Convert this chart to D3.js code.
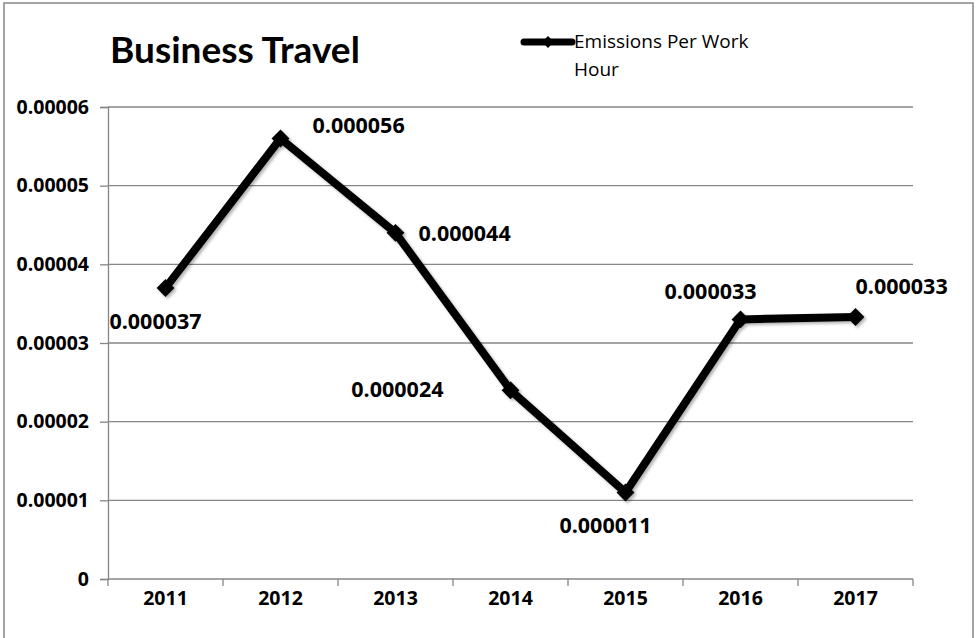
<!DOCTYPE html>
<html>
<head>
<meta charset="utf-8">
<script src="https://cdn.jsdelivr.net/npm/d3@7"></script>
<style>
  html, body { margin: 0; padding: 0; background: #fff; }
  svg { display: block; }
  text { font-family: "Open Sans", "Noto Sans", "DejaVu Sans", sans-serif; fill: #000; }
</style>
</head>
<body>
<svg id="chart" width="977" height="638"></svg>
<script>
// Business travel emissions per work hour, 2011–2017
const years = ["2011", "2012", "2013", "2014", "2015", "2016", "2017"];
const emissions = [0.000037, 0.000056, 0.000044, 0.000024, 0.000011, 0.000033, 0.0000333];
const yTicks = [0, 0.00001, 0.00002, 0.00003, 0.00004, 0.00005, 0.00006];
const yTickLabels = ["0", "0.00001", "0.00002", "0.00003", "0.00004", "0.00005", "0.00006"];
const seriesName = ["Emissions Per Work", "Hour"];
const chartTitle = "Business Travel";
// where each data label sits relative to its point
const labelPlacement = ["below", "right", "right", "left", "below", "above", "aboveRight"];

const svg = d3.select("#chart");
const margin = { left: 108, right: 64, top: 107, bottom: 59 };
const W = 977, H = 638;
const gridColor = "#868686";

// chart frame
svg.append("rect")
  .attr("x", 4).attr("y", 3).attr("width", 969).attr("height", 640)
  .attr("fill", "#fff").attr("stroke", gridColor).attr("stroke-width", 1.5);

const x = d3.scaleBand().domain(years)
  .range([margin.left, W - margin.right]).padding(0);
const y = d3.scaleLinear().domain([0, 0.00006])
  .range([H - margin.bottom, margin.top]);

// horizontal gridlines
svg.append("g").selectAll("line").data(yTicks.slice(1)).join("line")
  .attr("x1", margin.left).attr("x2", W - margin.right)
  .attr("y1", d => y(d)).attr("y2", d => y(d))
  .attr("stroke", gridColor).attr("stroke-width", 1.3);

// y axis
const yAxis = d3.axisLeft(y).tickValues(yTicks)
  .tickFormat((d, i) => yTickLabels[i]).tickSize(8).tickPadding(11);
const gy = svg.append("g").attr("transform", `translate(${margin.left},0)`).call(yAxis);
gy.select(".domain").attr("stroke", gridColor).attr("stroke-width", 1.3);
gy.selectAll(".tick line").attr("stroke", gridColor).attr("stroke-width", 1.3);
gy.selectAll(".tick text").attr("font-size", 19.5).attr("font-weight", "bold")
  .style("font-family", "'Open Sans', sans-serif").attr("fill", "#000");

// x axis with ticks at category boundaries
const gx = svg.append("g").attr("transform", `translate(0,${H - margin.bottom})`);
gx.append("line").attr("x1", margin.left).attr("x2", W - margin.right)
  .attr("stroke", gridColor).attr("stroke-width", 1.3);
const bounds = years.map(d => x(d)).concat([x(years[years.length - 1]) + x.bandwidth()]);
gx.selectAll("line.tk").data(bounds).join("line").attr("class", "tk")
  .attr("x1", d => d).attr("x2", d => d).attr("y1", 0).attr("y2", 7)
  .attr("stroke", gridColor).attr("stroke-width", 1.3);
gx.selectAll("text").data(years).join("text")
  .attr("x", d => x(d) + x.bandwidth() / 2).attr("y", 26)
  .attr("text-anchor", "middle").attr("font-size", 19.5).attr("font-weight", "bold")
  .text(d => d);

// subtle shadow under the series
const defs = svg.append("defs");
const f = defs.append("filter").attr("id", "shadow").attr("x", "-10%").attr("y", "-10%")
  .attr("width", "120%").attr("height", "120%");
f.append("feDropShadow").attr("dx", 2).attr("dy", 2).attr("stdDeviation", 1.5)
  .attr("flood-color", "#000").attr("flood-opacity", 0.3);

const cx = (d, i) => x(years[i]) + x.bandwidth() / 2;
const line = d3.line().x((d, i) => cx(d, i)).y(d => y(d));

const series = svg.append("g").attr("filter", "url(#shadow)");
series.append("path").datum(emissions)
  .attr("d", line).attr("fill", "none").attr("stroke", "#000")
  .attr("stroke-width", 8).attr("stroke-linejoin", "round");

series.selectAll("path.pt").data(emissions).join("path").attr("class", "pt")
  .attr("d", d3.symbol().type(d3.symbolSquare).size(160)())
  .attr("transform", (d, i) => `translate(${cx(d, i)},${y(d)}) rotate(45)`)
  .attr("fill", "#000");

// data labels
const fmt = d3.format(".6f");
const place = {
  below: { dx: -7, dy: 35, anchor: "middle" },
  right: { dx: 32, dy: -11, anchor: "start" },
  left: { dx: -67, dy: 1, anchor: "end" },
  above: { dx: -30, dy: -26, anchor: "middle" },
  aboveRight: { dx: 0, dy: -29, anchor: "start" }
};
const adj = [{ dx: -3, dy: 0 }, { dx: 0, dy: 0 }, { dx: -9, dy: 13 }, { dx: 0, dy: 0 }, { dx: -13, dy: 0 }, { dx: 0, dy: 0 }, { dx: 0, dy: 0 }];
svg.append("g").selectAll("text").data(emissions).join("text")
  .attr("x", (d, i) => cx(d, i) + place[labelPlacement[i]].dx + adj[i].dx)
  .attr("y", (d, i) => y(d) + place[labelPlacement[i]].dy + adj[i].dy)
  .attr("text-anchor", (d, i) => place[labelPlacement[i]].anchor)
  .attr("dominant-baseline", "middle")
  .attr("font-size", 21.5).attr("font-weight", "bold")
  .text(d => fmt(d));

// title
svg.append("text").attr("x", 110).attr("y", 63)
  .style("font-family", "Lato, 'Open Sans', sans-serif")
  .attr("font-size", 37).attr("font-weight", "bold").text(chartTitle);

// legend
const lg = svg.append("g");
lg.append("line").attr("x1", 524).attr("x2", 572).attr("y1", 42).attr("y2", 42)
  .attr("stroke", "#000").attr("stroke-width", 7).attr("stroke-linecap", "round");
lg.append("path").attr("transform", "translate(548,42) rotate(45)")
  .attr("d", d3.symbol().type(d3.symbolSquare).size(70)()).attr("fill", "#000");
lg.selectAll("text").data(seriesName).join("text")
  .attr("x", 574).attr("y", (d, i) => 43 + i * 28)
  .attr("dominant-baseline", "middle").attr("font-size", 19)
  .text(d => d);
</script>
</body>
</html>
